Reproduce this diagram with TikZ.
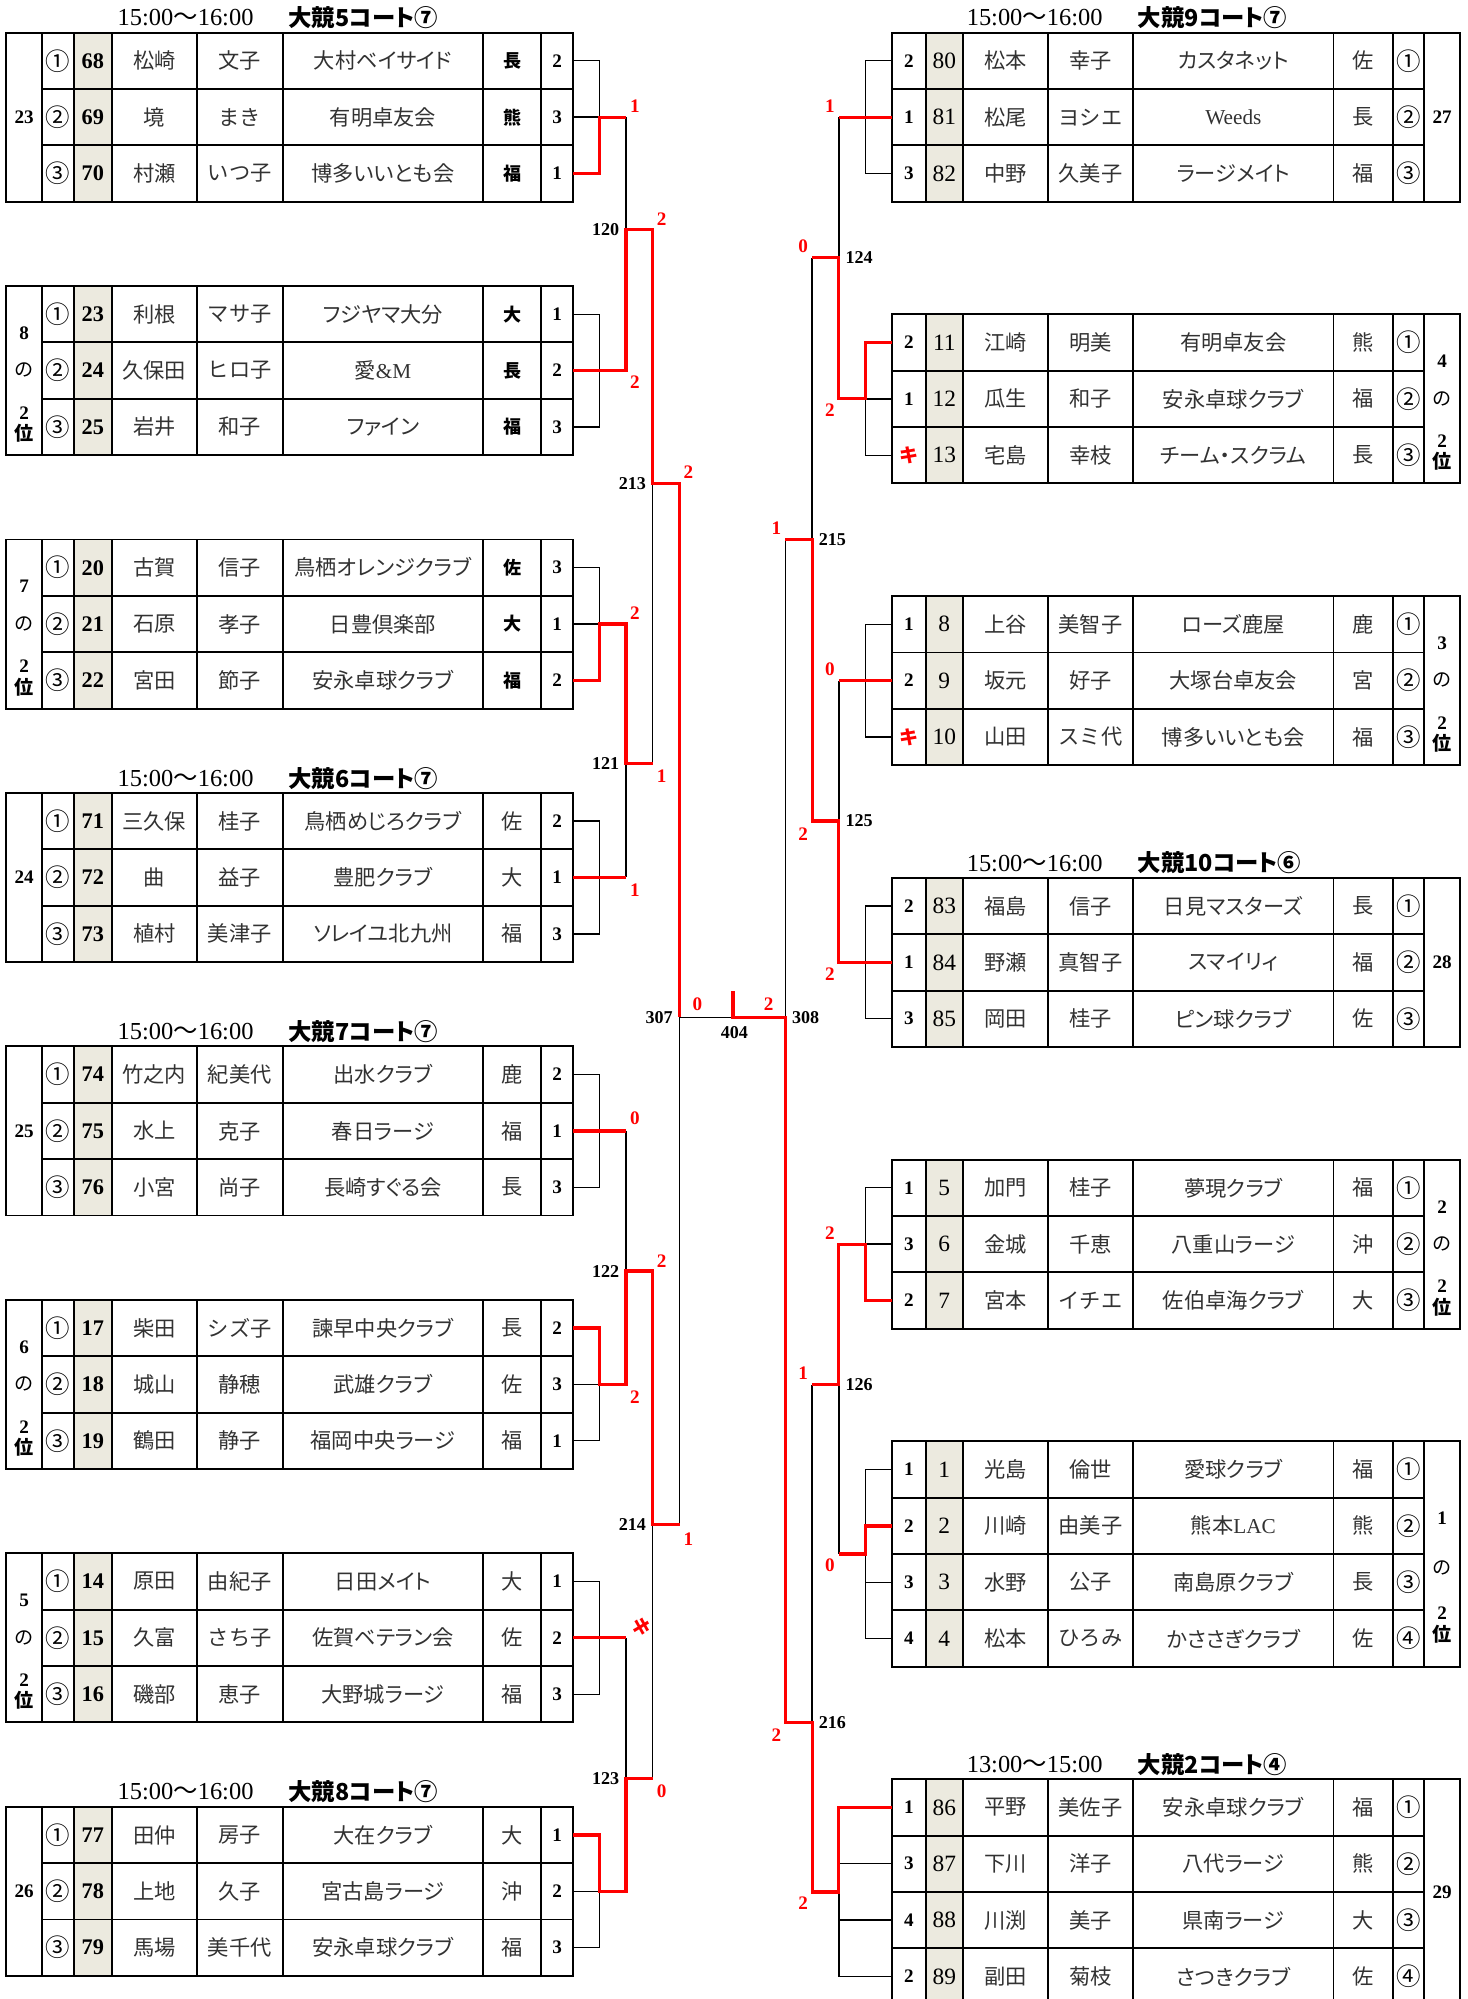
\documentclass[tikz,border=0pt]{standalone}
\usepackage{fontspec}
\setmainfont{Liberation Serif}
\newfontfamily\jp{Noto Sans CJK JP}
\newfontfamily\jpk{Noto Sans CJK JP}[RawFeature=+palt]
\definecolor{seedbg}{RGB}{236,234,223}
\definecolor{ink}{RGB}{50,50,50}

\newcommand\lgrid{%
  \fill[seedbg] (58,0) rectangle (87.6,132.6);
  \draw[tbl] (5,0) rectangle (449.6,132.6);
  \foreach \x in {32.8,58,87.6,154.3,221.7,379,424.6}
    \draw[tbl] (\x,0) -- (\x,132.6);
  \foreach \y in {44.2,88.4}
    \draw[tbl] (32.8,\y) -- (449.6,\y);
}
\newcommand\rgrid[2]{%
  \fill[seedbg] (726,0) rectangle (755.4,#1);
  \draw[tbl] (700,0) rectangle (1145.4,#1);
  \foreach \x in {726,755.4,822,888.8,1046,1092.6,1117}
    \draw[tbl] (\x,0) -- (\x,#1);
  \foreach \y in {#2}
    \draw[tbl] (700,\y) -- (1117,\y);
}
\newcommand\lrow[9]{%
  \node[circno]   (#1c#2) at (45.4,{44.2*(#2-0.5)}) {#3};
  \node[seedno]   (#1n#2) at (72.8,{44.2*(#2-0.5)}) {#4};
  \node[namecell] (#1s#2) at (121,{44.2*(#2-0.5)}) {#5};
  \node[namecell] (#1g#2) at (188,{44.2*(#2-0.5)}) {#6};
  \node[clubcell] (#1k#2) at (300.4,{44.2*(#2-0.5)}) {#7};
  \node[prefcell] (#1p#2) at (401.8,{44.2*(#2-0.5)}) {#8};
  \node[rankno]   (#1r#2) at (437.1,{44.2*(#2-0.5)}) {#9};
  \coordinate (#1e#2) at (449.6,{44.2*(#2-0.5)});
}
\newcommand\rrow[9]{%
  \node[ordno]    (#1r#2) at (713,{44.2*(#2-0.5)}) {#3};
  \node[rseedno]  (#1n#2) at (740.7,{44.2*(#2-0.5)}) {#4};
  \node[namecell] (#1s#2) at (788.7,{44.2*(#2-0.5)}) {#5};
  \node[namecell] (#1g#2) at (855.4,{44.2*(#2-0.5)}) {#6};
  \node[clubcell] (#1k#2) at (967.4,{44.2*(#2-0.5)}) {#7};
  \node[prefcell] (#1p#2) at (1069.3,{44.2*(#2-0.5)}) {#8};
  \node[circno]   (#1c#2) at (1104.8,{44.2*(#2-0.5)}) {#9};
  \coordinate (#1e#2) at (700,{44.2*(#2-0.5)});
}
\newcommand\slab[7]{%
  \node[olab] (#1a) at (#2,#4) {#3};
  \node[olab] (#1b) at (#2,#5) {\jp\mdseries の};
  \node[olab] (#1c) at (#2,#6) {2};
  \node[olab] (#1d) at (#2,#7) {\jp 位};
}

\begin{document}
\begin{tikzpicture}[x=0.6pt,y=-0.6pt,
  tbl/.style={line width=0.9pt},
  brk/.style={line width=0.65pt},
  win/.style={red, line width=1.5pt},
  cell/.style={inner sep=0pt},
  circno/.style={cell, font=\jp\fontsize{11.5}{12}\selectfont},
  seedno/.style={cell, font=\bfseries\fontsize{10.5}{12}\selectfont},
  rseedno/.style={cell, font=\fontsize{11}{12}\selectfont},
  namecell/.style={cell, text=ink, font=\jp\fontsize{10}{12}\selectfont},
  clubcell/.style={cell, text=ink, font=\jpk\fontsize{10}{12}\selectfont},
  prefcell/.style={cell, text=ink, font=\jp\fontsize{10}{12}\selectfont},
  rankno/.style={cell, font=\bfseries\fontsize{9}{10}\selectfont},
  ordno/.style={cell, font=\bfseries\fontsize{9}{10}\selectfont},
  olab/.style={cell, font=\bfseries\fontsize{9}{10}\selectfont},
  ttl/.style={cell, anchor=west, font=\fontsize{11.5}{12}\selectfont},
  ttlb/.style={cell, anchor=west, font=\jpk\bfseries\fontsize{11}{12}\selectfont},
  mno/.style={cell, font=\bfseries\fontsize{8.5}{10}\selectfont},
  sc/.style={cell, text=red, font=\bfseries\fontsize{9}{10}\selectfont}]
\useasboundingbox (0,0) rectangle (1151,1568);

\begin{scope}[shift={(0,25.6)}, prefcell/.style={cell, font=\jp\bfseries\fontsize{8.5}{10}\selectfont}]
\lgrid
\node[ttl] (T1t) at (92,-11.6) {15:00{\jp 〜}16:00};
\node[ttlb] (T1h) at (226,-11.6) {大競5コート⑦};
\node[olab] (T1o) at (18.9,66.3) {23};
\lrow{T1}{1}{①}{68}{松崎}{文子}{大村ベイサイド}{長}{2}
\lrow{T1}{2}{②}{69}{境}{まき}{有明卓友会}{熊}{3}
\lrow{T1}{3}{③}{70}{村瀬}{いつ子}{博多いいとも会}{福}{1}
\end{scope}

\begin{scope}[shift={(0,224.4)}, prefcell/.style={cell, font=\jp\bfseries\fontsize{8.5}{10}\selectfont}]
\lgrid
\slab{T2o}{18.9}{8}{37}{66}{99.5}{115.5}
\lrow{T2}{1}{①}{23}{利根}{マサ子}{フジヤマ大分}{大}{1}
\lrow{T2}{2}{②}{24}{久保田}{ヒロ子}{愛{\rmfamily\&M}}{長}{2}
\lrow{T2}{3}{③}{25}{岩井}{和子}{ファイン}{福}{3}
\end{scope}

\begin{scope}[shift={(0,423.2)}, prefcell/.style={cell, font=\jp\bfseries\fontsize{8.5}{10}\selectfont}]
\lgrid
\slab{T3o}{18.9}{7}{37}{66}{99.5}{115.5}
\lrow{T3}{1}{①}{20}{古賀}{信子}{鳥栖オレンジクラブ}{佐}{3}
\lrow{T3}{2}{②}{21}{石原}{孝子}{日豊倶楽部}{大}{1}
\lrow{T3}{3}{③}{22}{宮田}{節子}{安永卓球クラブ}{福}{2}
\end{scope}

\begin{scope}[shift={(0,622)}]
\lgrid
\node[ttl] (T4t) at (92,-11.6) {15:00{\jp 〜}16:00};
\node[ttlb] (T4h) at (226,-11.6) {大競6コート⑦};
\node[olab] (T4o) at (18.9,66.3) {24};
\lrow{T4}{1}{①}{71}{三久保}{桂子}{鳥栖めじろクラブ}{佐}{2}
\lrow{T4}{2}{②}{72}{曲}{益子}{豊肥クラブ}{大}{1}
\lrow{T4}{3}{③}{73}{植村}{美津子}{ソレイユ北九州}{福}{3}
\end{scope}

\begin{scope}[shift={(0,820.8)}]
\lgrid
\node[ttl] (T5t) at (92,-11.6) {15:00{\jp 〜}16:00};
\node[ttlb] (T5h) at (226,-11.6) {大競7コート⑦};
\node[olab] (T5o) at (18.9,66.3) {25};
\lrow{T5}{1}{①}{74}{竹之内}{紀美代}{出水クラブ}{鹿}{2}
\lrow{T5}{2}{②}{75}{水上}{克子}{春日ラージ}{福}{1}
\lrow{T5}{3}{③}{76}{小宮}{尚子}{長崎すぐる会}{長}{3}
\end{scope}

\begin{scope}[shift={(0,1019.6)}]
\lgrid
\slab{T6o}{18.9}{6}{37}{66}{99.5}{115.5}
\lrow{T6}{1}{①}{17}{柴田}{シズ子}{諫早中央クラブ}{長}{2}
\lrow{T6}{2}{②}{18}{城山}{静穂}{武雄クラブ}{佐}{3}
\lrow{T6}{3}{③}{19}{鶴田}{静子}{福岡中央ラージ}{福}{1}
\end{scope}

\begin{scope}[shift={(0,1218.4)}]
\lgrid
\slab{T7o}{18.9}{5}{37}{66}{99.5}{115.5}
\lrow{T7}{1}{①}{14}{原田}{由紀子}{日田メイト}{大}{1}
\lrow{T7}{2}{②}{15}{久富}{さち子}{佐賀ベテラン会}{佐}{2}
\lrow{T7}{3}{③}{16}{磯部}{恵子}{大野城ラージ}{福}{3}
\end{scope}

\begin{scope}[shift={(0,1417.2)}]
\lgrid
\node[ttl] (T8t) at (92,-11.6) {15:00{\jp 〜}16:00};
\node[ttlb] (T8h) at (226,-11.6) {大競8コート⑦};
\node[olab] (T8o) at (18.9,66.3) {26};
\lrow{T8}{1}{①}{77}{田仲}{房子}{大在クラブ}{大}{1}
\lrow{T8}{2}{②}{78}{上地}{久子}{宮古島ラージ}{沖}{2}
\lrow{T8}{3}{③}{79}{馬場}{美千代}{安永卓球クラブ}{福}{3}
\end{scope}

\begin{scope}[shift={(0,25.6)}]
\rgrid{132.6}{44.2,88.4}
\node[ttl] (R1t) at (758,-11.6) {15:00{\jp 〜}16:00};
\node[ttlb] (R1h) at (892,-11.6) {大競9コート⑦};
\node[olab] (R1o) at (1131.2,66.3) {27};
\rrow{R1}{1}{2}{80}{松本}{幸子}{カスタネット}{佐}{①}
\rrow{R1}{2}{1}{81}{松尾}{ヨシエ}{{\rmfamily Weeds}}{長}{②}
\rrow{R1}{3}{3}{82}{中野}{久美子}{ラージメイト}{福}{③}
\end{scope}

\begin{scope}[shift={(0,246.6)}]
\rgrid{132.6}{44.2,88.4}
\slab{R2o}{1131.2}{4}{37}{66}{99.5}{115.5}
\rrow{R2}{1}{2}{11}{江崎}{明美}{有明卓友会}{熊}{①}
\rrow{R2}{2}{1}{12}{瓜生}{和子}{安永卓球クラブ}{福}{②}
\rrow{R2}{3}{{\color{red}\jp キ}}{13}{宅島}{幸枝}{チーム・スクラム}{長}{③}
\end{scope}

\begin{scope}[shift={(0,467.6)}]
\rgrid{132.6}{44.2,88.4}
\slab{R3o}{1131.2}{3}{37}{66}{99.5}{115.5}
\rrow{R3}{1}{1}{8}{上谷}{美智子}{ローズ鹿屋}{鹿}{①}
\rrow{R3}{2}{2}{9}{坂元}{好子}{大塚台卓友会}{宮}{②}
\rrow{R3}{3}{{\color{red}\jp キ}}{10}{山田}{スミ代}{博多いいとも会}{福}{③}
\end{scope}

\begin{scope}[shift={(0,688.6)}]
\rgrid{132.6}{44.2,88.4}
\node[ttl] (R4t) at (758,-11.6) {15:00{\jp 〜}16:00};
\node[ttlb] (R4h) at (892,-11.6) {大競10コート⑥};
\node[olab] (R4o) at (1131.2,66.3) {28};
\rrow{R4}{1}{2}{83}{福島}{信子}{日見マスターズ}{長}{①}
\rrow{R4}{2}{1}{84}{野瀬}{真智子}{スマイリィ}{福}{②}
\rrow{R4}{3}{3}{85}{岡田}{桂子}{ピン球クラブ}{佐}{③}
\end{scope}

\begin{scope}[shift={(0,909.6)}]
\rgrid{132.6}{44.2,88.4}
\slab{R5o}{1131.2}{2}{37}{66}{99.5}{115.5}
\rrow{R5}{1}{1}{5}{加門}{桂子}{夢現クラブ}{福}{①}
\rrow{R5}{2}{3}{6}{金城}{千恵}{八重山ラージ}{沖}{②}
\rrow{R5}{3}{2}{7}{宮本}{イチエ}{佐伯卓海クラブ}{大}{③}
\end{scope}

\begin{scope}[shift={(0,1130.6)}]
\rgrid{176.8}{44.2,88.4,132.6}
\slab{R6o}{1131.2}{1}{60}{99}{134.5}{151.5}
\rrow{R6}{1}{1}{1}{光島}{倫世}{愛球クラブ}{福}{①}
\rrow{R6}{2}{2}{2}{川崎}{由美子}{熊本{\rmfamily LAC}}{熊}{②}
\rrow{R6}{3}{3}{3}{水野}{公子}{南島原クラブ}{長}{③}
\rrow{R6}{4}{4}{4}{松本}{ひろみ}{かささぎクラブ}{佐}{④}
\coordinate (R6x) at (658,88.4);
\end{scope}

\begin{scope}[shift={(0,1395.6)}]
\rgrid{176.8}{44.2,88.4,132.6}
\node[ttl] (R7t) at (758,-11.6) {13:00{\jp 〜}15:00};
\node[ttlb] (R7h) at (892,-11.6) {大競2コート④};
\node[olab] (R7o) at (1131.2,88.4) {29};
\rrow{R7}{1}{1}{86}{平野}{美佐子}{安永卓球クラブ}{福}{①}
\rrow{R7}{2}{3}{87}{下川}{洋子}{八代ラージ}{熊}{②}
\rrow{R7}{3}{4}{88}{川渕}{美子}{県南ラージ}{大}{③}
\rrow{R7}{4}{2}{89}{副田}{菊枝}{さつきクラブ}{佐}{④}
\coordinate (R7x) at (658,88.4);
\end{scope}

\coordinate (m120) at (491,180);
\coordinate (m121) at (491,599);
\coordinate (m122) at (491,997);
\coordinate (m123) at (491,1395);
\coordinate (m213) at (512,379);
\coordinate (m214) at (512,1196);
\coordinate (m307) at (533,798);
\coordinate (m404) at (575,798);
\coordinate (m404t) at (575,777.5);
\coordinate (m308) at (616,798);
\coordinate (m215) at (637,423);
\coordinate (m216) at (637,1351);
\coordinate (m124) at (658,202);
\coordinate (m125) at (658,644);
\coordinate (m126) at (658,1086);

\draw[brk] (T1e1) -- ++(20.4,0) |- (T1e3);
\draw[brk] (T1e2) -- ++(20.4,0);
\draw[brk] (T2e1) -- ++(20.4,0) |- (T2e3);
\draw[brk] (T3e1) -- ++(20.4,0) |- (T3e3);
\draw[brk] (T3e2) -- ++(20.4,0);
\draw[brk] (T4e1) -- ++(20.4,0) |- (T4e3);
\draw[brk] (T5e1) -- ++(20.4,0) |- (T5e3);
\draw[brk] (T6e1) -- ++(20.4,0) |- (T6e3);
\draw[brk] (T6e2) -- ++(20.4,0);
\draw[brk] (T7e1) -- ++(20.4,0) |- (T7e3);
\draw[brk] (T8e1) -- ++(20.4,0) |- (T8e3);
\draw[brk] (T8e2) -- ++(20.4,0);
\draw[brk] (R1e1) -- ++(-21,0) |- (R1e3);
\draw[brk] (R2e1) -- ++(-21,0) |- (R2e3);
\draw[brk] (R2e2) -- ++(-21,0);
\draw[brk] (R3e1) -- ++(-21,0) |- (R3e3);
\draw[brk] (R4e1) -- ++(-21,0) |- (R4e3);
\draw[brk] (R5e1) -- ++(-21,0) |- (R5e3);
\draw[brk] (R5e2) -- ++(-21,0);
\draw[brk] (R6e1) -- ++(-21,0) |- (R6e4);
\draw[brk] (R6e3) -- ++(-21,0);
\draw[brk] (R7x) |- (R7e4);
\draw[brk] (R7e2) -- (R7x |- R7e2);
\draw[brk] (R7e3) -- (R7x |- R7e3);

\draw[brk] (m120 |- T1e2) -- (m120);
\draw[brk] (m121 -| m213) -- (m213);
\draw[brk] (m121 |- T4e2) -- (m121);
\draw[brk] (m122 |- T5e2) -- (m122);
\draw[brk] (m214 -| m307) -- (m307);
\draw[brk] (m123 |- T7e2) -- (m123);
\draw[brk] (m123 -| m214) -- (m214);
\draw[brk] (m307) -- (m404);
\draw[brk] (m308) -- (m308 |- m215);
\draw[brk] (m215) -- (m215 |- m124);
\draw[brk] (m124) -- (m124 |- R1e2);
\draw[brk] (m125) -- (m125 |- R3e2);
\draw[brk] (m126) -- (R6x);
\draw[brk] (m126 -| m216) -- (m216);

\draw[win] (T1e3) -- ++(20.4,0) |- (m120 |- T1e2);
\draw[win] (T2e2) -| (m120) -| (m213) -| (m307);
\draw[win] (T3e3) -- ++(20.4,0) |- (m121 |- T3e2) -- (m121) -- (m121 -| m213);
\draw[win] (T4e2) -- (m121 |- T4e2);
\draw[win] (T5e2) -- (m122 |- T5e2);
\draw[win] (T6e1) -- ++(20.4,0) |- (m122 |- T6e2) -- (m122) -| (m214) -- (m214 -| m307);
\draw[win] (T7e2) -- (m123 |- T7e2);
\draw[win] (T8e1) -- ++(20.4,0) |- (m123 |- T8e2) -- (m123) -- (m123 -| m214);
\draw[win] (m404t) -- (m404) -- (m308) |- (m216) |- (R7x) |- (R7e1);
\draw[win] (m308 |- m215) -- (m215) |- (m125) |- (R4e2);
\draw[win] (m215 |- m124) -- (m124) -- (m124 |- R2e2) -- ++(21,0) |- (R2e1);
\draw[win] (R1e2) -- (m124 |- R1e2);
\draw[win] (R3e2) -- (m125 |- R3e2);
\draw[win] (R5e3) -- ++(-21,0) |- (m126 |- R5e2) -- (m126) -- (m126 -| m216);
\draw[win] (R6e2) -- ++(-21,0) |- (R6x);

\node[mno, anchor=east] (l120) at ([xshift=-3]m120) {120};
\node[mno, anchor=east] (l121) at ([xshift=-3]m121) {121};
\node[mno, anchor=east] (l122) at ([xshift=-3]m122) {122};
\node[mno, anchor=east] (l123) at ([xshift=-3]m123) {123};
\node[mno, anchor=east] (l213) at ([xshift=-3]m213) {213};
\node[mno, anchor=east] (l214) at ([xshift=-3]m214) {214};
\node[mno, anchor=east] (l307) at ([xshift=-3]m307) {307};
\node[mno] (l404) at (576,810) {404};
\node[mno, anchor=west] (l308) at ([xshift=3]m308) {308};
\node[mno, anchor=west] (l215) at ([xshift=3]m215) {215};
\node[mno, anchor=west] (l216) at ([xshift=3]m216) {216};
\node[mno, anchor=west] (l124) at ([xshift=3]m124) {124};
\node[mno, anchor=west] (l125) at ([xshift=3]m125) {125};
\node[mno, anchor=west] (l126) at ([xshift=3]m126) {126};

\node[sc] (sT1) at (498,83) {1};
\node[sc] (sT2) at (498,300) {2};
\node[sc] (s120) at (519,172) {2};
\node[sc] (s213) at (540,370) {2};
\node[sc] (sT3) at (498,481) {2};
\node[sc] (s121) at (519,609) {1};
\node[sc] (sT4) at (498,698) {1};
\node[sc] (sT5) at (498,877) {0};
\node[sc] (s122) at (519,989) {2};
\node[sc] (sT6) at (498,1096) {2};
\node[sc] (s214) at (540,1207) {1};
\node[sc, rotate=-70] (sT7) at (503,1276) {\jp キ};
\node[sc] (s123) at (519,1405) {0};
\node[sc] (s307) at (547,788) {0};
\node[sc] (s308) at (603,788) {2};
\node[sc] (sR1) at (651,83) {1};
\node[sc] (s124) at (630,193) {0};
\node[sc] (sR2) at (651,322) {2};
\node[sc] (s215) at (609,414) {1};
\node[sc] (sR3) at (651,525) {0};
\node[sc] (s125) at (630,654) {2};
\node[sc] (sR4) at (651,764) {2};
\node[sc] (sR5) at (651,967) {2};
\node[sc] (s126) at (630,1077) {1};
\node[sc] (sR6) at (651,1228) {0};
\node[sc] (s216) at (609,1361) {2};
\node[sc] (sR7) at (630,1493) {2};
\end{tikzpicture}
\end{document}
